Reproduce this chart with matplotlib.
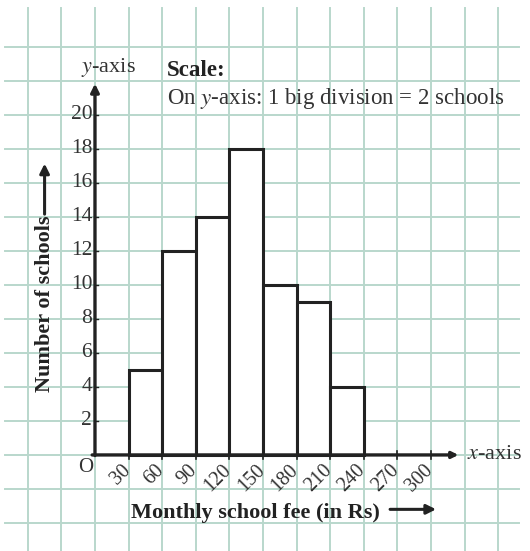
import matplotlib
matplotlib.use('Agg')
import matplotlib.pyplot as plt

plt.rcParams['font.family'] = ['Liberation Serif', 'DejaVu Serif']
plt.rcParams['mathtext.fontset'] = 'stix'

# data
fee_start = [30, 60, 90, 120, 150, 180, 210]
schools = [5, 12, 14, 18, 10, 9, 4]
x_ticks = [30, 60, 90, 120, 150, 180, 210, 240, 270, 300]
y_ticks = [2, 4, 6, 8, 10, 12, 14, 16, 18, 20]
bin_w = 30

ink = '#222222'
grid_col = '#b9d7cc'

fig = plt.figure(figsize=(5.3, 5.51), dpi=100)
ax = fig.add_axes([0, 0, 1, 1])
ax.set_xlim(-84.8, 388.4)
ax.set_ylim(-5.65, 26.76)
ax.axis('off')

# graph paper
for gx in range(-60, 390, 30):
    ax.axvline(gx, ymin=0.0, ymax=0.985, color=grid_col, lw=1.4, zorder=0)
for gy in range(-4, 26, 2):
    ax.axhline(gy, xmin=0.01, xmax=0.98, color=grid_col, lw=1.4, zorder=0)

# histogram
ax.bar(fee_start, schools, width=bin_w, align='edge', facecolor='white',
       edgecolor=ink, linewidth=2.2, zorder=3)

# axes with arrows
ax.annotate('', xy=(0, 22.0), xytext=(0, -0.2),
            arrowprops=dict(arrowstyle='-|>', color=ink, lw=2.4,
                            mutation_scale=12), zorder=4)
ax.annotate('', xy=(327, 0), xytext=(-5, 0),
            arrowprops=dict(arrowstyle='-|>', color=ink, lw=2.4,
                            mutation_scale=9), zorder=4)

# ticks
for t in y_ticks:
    ax.plot([0, 3], [t, t], color=ink, lw=1, zorder=4)
    ax.text(-2.5, t, str(t), ha='right', va='center', fontsize=15.5, color='#333333')
for t in x_ticks:
    ax.plot([t, t], [-0.25, 0.25], color=ink, lw=1.2, zorder=4)
    ax.text(t + 5, -0.35, str(t), ha='right', va='top', rotation=45,
            fontsize=14.5, color='#333333')
ax.text(-8, -0.75, 'O', ha='center', va='center', fontsize=15, color='#333333')

# labels
ax.text(332, 0, '$x$-axis', ha='left', va='center', fontsize=16, color='#333333')
ax.text(11.6, 22.8, '$y$-axis', ha='center', va='center', fontsize=16, color='#333333')
ax.text(64, 22.6, 'Scale:', ha='left', va='center', fontsize=16.5,
        fontweight='bold', color=ink)
ax.text(64, 20.95, 'On $y$-axis: 1 big division = 2 schools', ha='left',
        va='center', fontsize=16.5, color='#333333')

ax.text(143, -3.4, 'Monthly school fee (in Rs)', ha='center', va='center',
        fontsize=16, fontweight='bold', color=ink)
ax.annotate('', xy=(307, -3.2), xytext=(261, -3.2),
            arrowprops=dict(arrowstyle='-|>', color=ink, lw=2.2,
                            mutation_scale=14))

ax.text(-45, 8.9, 'Number of schools', ha='center', va='center',
        rotation=90, fontsize=16, fontweight='bold', color=ink)
ax.annotate('', xy=(-45, 17.3), xytext=(-45, 14.0),
            arrowprops=dict(arrowstyle='-|>', color=ink, lw=2.2,
                            mutation_scale=14))

fig.savefig('out.png', dpi=100, facecolor='white')
